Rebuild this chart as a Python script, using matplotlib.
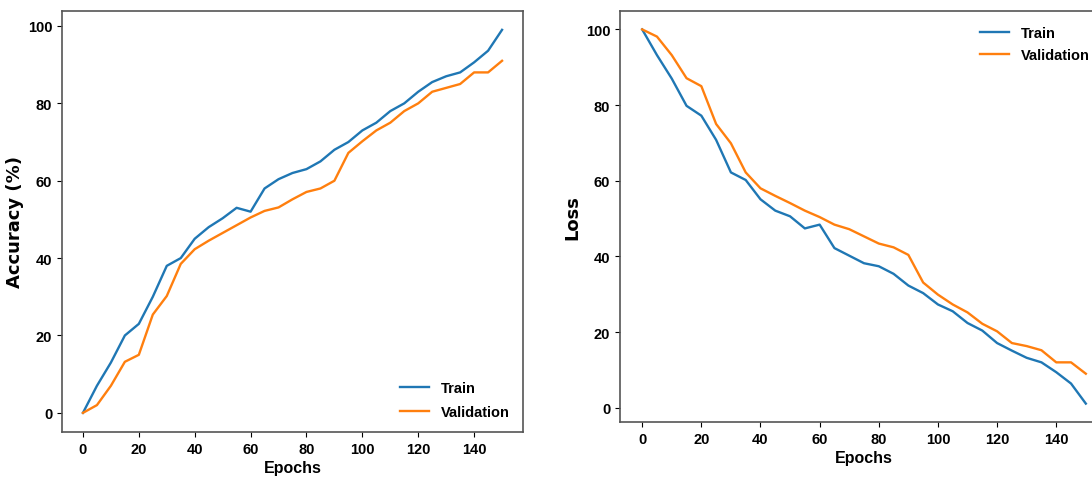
import matplotlib
matplotlib.use("Agg")
import matplotlib.pyplot as plt

plt.rcParams["font.family"] = ["Liberation Sans", "DejaVu Sans"]

epochs = list(range(0, 151, 5))

train_acc = [0, 7, 13, 20, 23, 30, 38, 40, 45, 48, 50.3, 53, 52, 58, 60.4, 62,
             63, 65, 68, 70, 73, 75, 78, 80, 83, 85.5, 87, 88, 90.6, 93.6, 99]
val_acc = [0, 2, 7, 13.2, 15, 25.4, 30.2, 38.5, 42.3, 44.5, 46.5, 48.5, 50.5, 52.2, 53.1, 55.2,
           57.1, 58, 60, 67.2, 70.2, 73, 75, 78, 80, 83, 84, 85, 88, 88, 91]

train_loss = [100, 93.2, 87, 79.8, 77.2, 70.8, 62.2, 60.2, 55.1, 52.1, 50.6, 47.4, 48.4, 42.2,
              40.2, 38.2, 37.4, 35.4, 32.3, 30.3, 27.3, 25.5, 22.4, 20.4, 17.1, 15.1, 13.2,
              12, 9.4, 6.4, 1.1]
val_loss = [100, 98.1, 93.2, 87.1, 85, 75, 69.9, 62.2, 58, 56, 54.1, 52.1, 50.4, 48.4, 47.2,
            45.3, 43.4, 42.4, 40.4, 33.1, 29.9, 27.3, 25.2, 22.2, 20.2, 17.1, 16.3, 15.2,
            12, 12, 9]

W, H = 1092, 481
fig = plt.figure(figsize=(W / 100, H / 100), dpi=100)

ax1 = fig.add_axes([62 / W, (H - 433) / H, (523 - 62) / W, (433 - 11.7) / H])
ax2 = fig.add_axes([620 / W, (H - 423.3) / H, 488 / W, (423.3 - 11.7) / H])

ax1.plot(epochs, train_acc, color="#1f77b4", lw=1.7, label="Train")
ax1.plot(epochs, val_acc, color="#ff7f0e", lw=1.7, label="Validation")
ax1.set_ylabel("Accuracy (%)", fontsize=13, fontweight="bold", family="DejaVu Sans")
ax1.yaxis.set_label_coords((24 - 62) / 461, 0.5)
ax1.legend(loc="lower right", frameon=False, labelspacing=0.65,
           prop={"weight": "bold", "size": 10.5})

ax2.plot(epochs, train_loss, color="#1f77b4", lw=1.7, label="Train")
ax2.plot(epochs, val_loss, color="#ff7f0e", lw=1.7, label="Validation")
ax2.set_ylabel("Loss", fontsize=13, fontweight="bold", family="DejaVu Sans")
ax2.yaxis.set_label_coords((581 - 620) / 488, 0.5)
ax2.legend(loc="upper right", bbox_to_anchor=(1 - 5 / 488, 1 - 2 / 412), frameon=False,
           labelspacing=0.55, prop={"weight": "bold", "size": 10.5})

for ax in (ax1, ax2):
    ax.set_xlabel("Epochs", fontsize=11.5, fontweight="bold", labelpad=3)
    ax.set_xticks(range(0, 141, 20))
    for lab in ax.get_xticklabels() + ax.get_yticklabels():
        lab.set_fontweight("bold")
        lab.set_fontsize(10.5)
    for sp in ax.spines.values():
        sp.set_color("#555555")
        sp.set_linewidth(1.2)

fig.savefig("out.png", dpi=100)
